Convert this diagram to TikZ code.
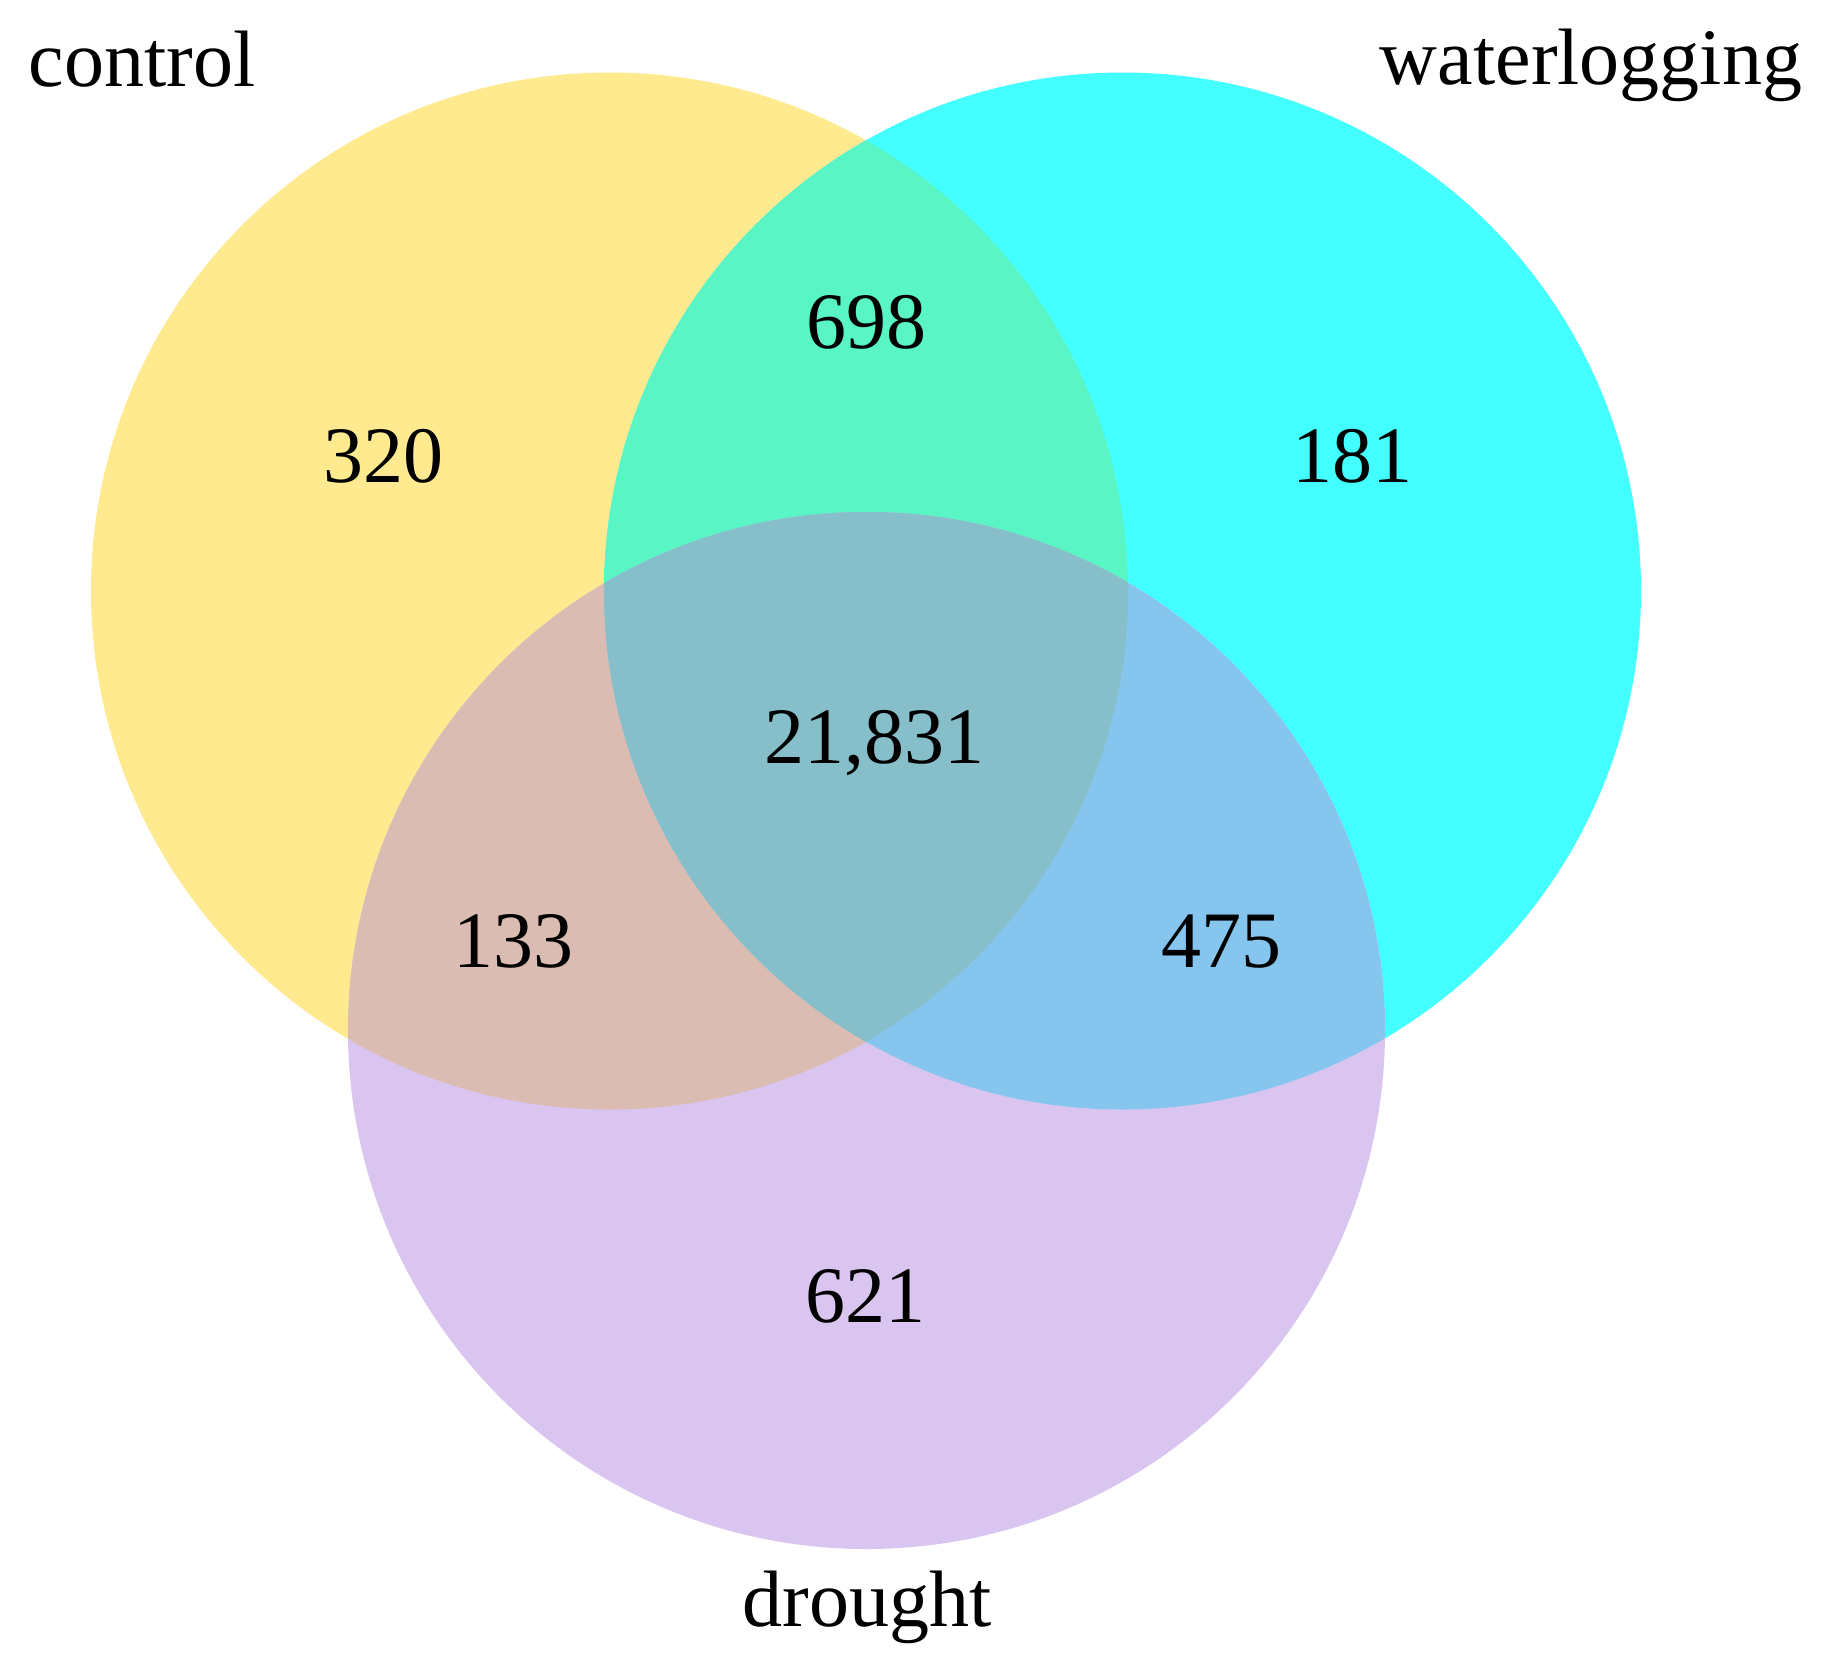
\documentclass[tikz,border=0pt]{standalone}
\usepackage{fontspec}
\setmainfont{Liberation Serif}
\definecolor{cY}{HTML}{FFEA90}
\definecolor{cC}{HTML}{44FFFF}
\definecolor{cP}{HTML}{D9C5F0}
\definecolor{cYC}{HTML}{5AF5C4}
\definecolor{cYP}{HTML}{DBBCB2}
\definecolor{cCP}{HTML}{85C5EE}
\definecolor{cYCP}{HTML}{86BECA}
\tikzset{lbl/.style={font=\fontsize{80}{96}\selectfont, inner sep=0pt, anchor=base}}
\begin{document}
\begin{tikzpicture}[x=1pt,y=-1pt]
\useasboundingbox (0,0) rectangle (1836,1673);
\def\R{518.5}
\coordinate (cc) at (609.5,591);
\coordinate (cw) at (1122.5,591);
\coordinate (cd) at (866.5,1030.5);
\fill[cY] (cc) circle (\R);
\fill[cC] (cw) circle (\R);
\fill[cP] (cd) circle (\R);
\begin{scope}\clip (cc) circle (\R); \fill[cYC] (cw) circle (\R); \end{scope}
\begin{scope}\clip (cc) circle (\R); \fill[cYP] (cd) circle (\R); \end{scope}
\begin{scope}\clip (cw) circle (\R); \fill[cCP] (cd) circle (\R); \end{scope}
\begin{scope}\clip (cc) circle (\R); \clip (cw) circle (\R); \fill[cYCP] (cd) circle (\R); \end{scope}
\node[lbl] (lc) at (142,86) {control};
\node[lbl] (lw) at (1591,84) {waterlogging};
\node[lbl] (ld) at (867,1626) {drought};
\node[lbl] (n698) at (866,348) {698};
\node[lbl] (n320) at (383,482) {320};
\node[lbl] (n181) at (1352,482) {181};
\node[lbl] (nall) at (874,763) {21,831};
\node[lbl] (n133) at (513,967) {133};
\node[lbl] (n475) at (1221,967) {475};
\node[lbl] (n621) at (865,1322) {621};
\end{tikzpicture}
\end{document}
